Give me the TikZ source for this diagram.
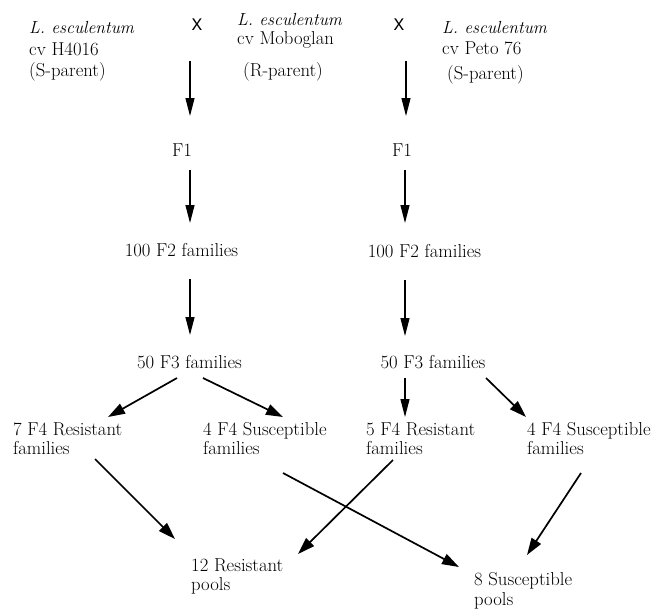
\documentclass[tikz,border=0pt]{standalone}
\usepackage{fontspec}
\newfontfamily\xfont{TeX Gyre Heros}
\usetikzlibrary{arrows.meta,calc}
\tikzset{
  lbl/.style={inner sep=0pt, font=\fontsize{18.7}{19.5}\selectfont, align=left},
  lblw/.style={lbl, anchor=west},
  ital/.style={lblw, font=\fontsize{17.5}{19.5}\selectfont\itshape},
  crossx/.style={inner sep=0pt, font=\xfont\fontsize{16}{18}\selectfont},
  varr/.style={line width=1.2pt, -{Triangle[length=18pt,width=9pt]}},
  darr/.style={line width=1.7pt, -{Triangle[length=17pt,width=11pt]}}
}
\begin{document}
\begin{tikzpicture}[x=1pt,y=-1pt]
\useasboundingbox (0,0) rectangle (656,608);
% parents
\node[ital] (pL1) at (29,28) {L. esculentum};
\node[lblw] (pL2) at (29,49) {cv H4016};
\node[lblw] (pL3) at (29,72) {(S-parent)};
\node[crossx] (x1) at (197,25) {X};
\node[ital] (pM1) at (237,19.5) {L. esculentum};
\node[lblw] (pM2) at (237,40) {cv Moboglan};
\node[lblw] (pM3) at (243,72) {(R-parent)};
\node[crossx] (x2) at (399,25) {X};
\node[ital] (pR1) at (442,28) {L. esculentum};
\node[lblw] (pR2) at (442,48) {cv Peto 76};
\node[lblw] (pR3) at (447,75) {(S-parent)};
% generations
\node[lbl] (f1L) at (182,150) {F1};
\node[lbl] (f1R) at (402,150) {F1};
\node[lbl] (f2L) at (181.5,250) {100 F2 families};
\node[lbl] (f2R) at (424.5,251) {100 F2 families};
\node[lbl] (f3L) at (189.5,362) {50 F3 families};
\node[lbl] (f3R) at (433,362) {50 F3 families};
\node[lblw] (f4a) at (13,438.5) {7 F4 Resistant\\families};
\node[lblw] (f4b) at (203,438.5) {4 F4 Susceptible\\families};
\node[lblw] (f4c) at (366,438.5) {5 F4 Resistant\\families};
\node[lblw] (f4d) at (527,438.5) {4 F4 Susceptible\\families};
\node[lblw] (poolR) at (191,576.5) {12 Resistant\\pools};
\node[lblw] (poolS) at (474,591) {8 Susceptible\\pools};
% vertical arrows
\draw[varr] ($(x1)+(-7,36)$) -- ($(f1L)+(8,-34)$);
\draw[varr] ($(x2)+(7,36)$) -- ($(f1R)+(4,-34)$);
\draw[varr] ($(f1L)+(8,20)$) -- ($(f2L)+(8.5,-27)$);
\draw[varr] ($(f1R)+(3,20)$) -- ($(f2R)+(-19.5,-28)$);
\draw[varr] ($(f2L)+(8.5,29)$) -- ($(f3L)+(0.5,-27)$);
\draw[varr] ($(f2R)+(-19.5,29)$) -- ($(f3R)+(-28,-26)$);
% F3 -> F4
\draw[darr] ($(f3L)+(-12.5,16)$) -- ($(f4a.west)+(95,-21.5)$);
\draw[darr] ($(f3L)+(13.5,16)$) -- ($(f4b.west)+(80,-21.5)$);
\draw[varr] ($(f3R)+(-28,16)$) -- ($(f4c.west)+(39,-21.5)$);
\draw[darr] ($(f3R)+(53,16)$) -- ($(f4d.west)+(-1,-21.5)$);
% F4 -> pools
\draw[darr] ($(f4a.west)+(82,20.5)$) -- ($(poolR.west)+(-16,-37.5)$);
\draw[darr] ($(f4b.west)+(80,34.5)$) -- ($(poolS.west)+(-15,-24)$);
\draw[darr] ($(f4c.west)+(27,21.5)$) -- ($(poolR.west)+(107,-22.5)$);
\draw[darr] ($(f4d.west)+(54,34.5)$) -- ($(poolS.west)+(53,-36)$);
\end{tikzpicture}
\end{document}
